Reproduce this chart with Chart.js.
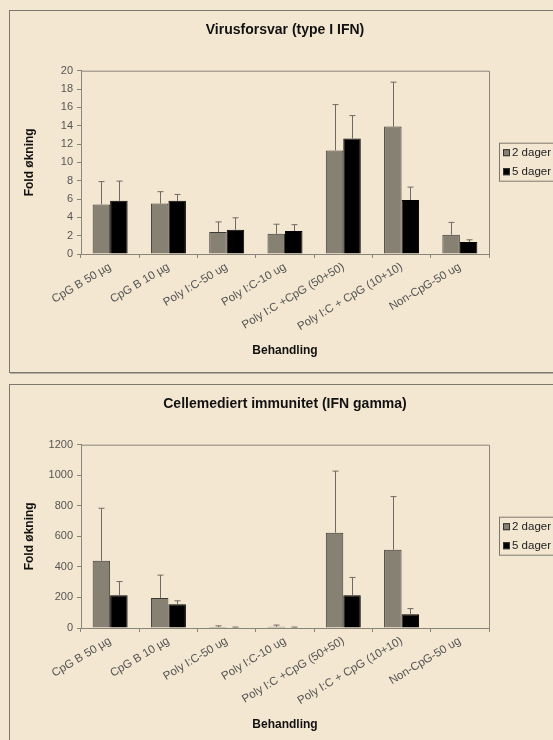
<!DOCTYPE html>
<html>
<head>
<meta charset="utf-8">
<script src="https://cdn.jsdelivr.net/npm/chart.js@4.4.1/dist/chart.umd.min.js"></script>
<style>
  html, body { margin: 0; padding: 0; background: #f4e7d2; width: 553px; height: 740px; overflow: hidden; }
  .panel { position: absolute; left: 9px; width: 620px; border: 1px solid #7d786e; box-shadow: 1px 1px 0 #b9b2a4; }
  .wrap { position: absolute; left: 0; width: 553px; height: 370px; }
</style>
</head>
<body>
<div class="panel" style="top:10px;height:361px;"></div>
<div class="panel" style="top:384px;height:400px;"></div>
<div class="wrap" style="top:0px;"><canvas id="virusChart"></canvas></div>
<div class="wrap" style="top:374px;"><canvas id="gammaChart"></canvas></div>
<script>
// Categories (treatments)
const categories = ['CpG B 50 µg', 'CpG B 10 µg', 'Poly I:C-50 ug', 'Poly I:C-10 ug',
    'Poly I:C +CpG (50+50)', 'Poly I:C + CpG (10+10)', 'Non-CpG-50 ug'];
const seriesNames = ['2 dager', '5 dager'];

// Virusforsvar (type I IFN): mean and standard deviation
const virus2 = [5.4, 5.5, 2.4, 2.2, 11.3, 13.9, 2.1];
const virus2Sd = [2.5, 1.3, 1.1, 1.05, 5.0, 4.85, 1.35];
const virus5 = [5.8, 5.8, 2.65, 2.5, 12.6, 5.9, 1.3];
const virus5Sd = [2.15, 0.7, 1.3, 0.7, 2.5, 1.4, 0.25];

// Cellemediert immunitet (IFN gamma)
const gamma2 = [440, 197, 6, 8, 624, 512, 0];
const gamma2Sd = [344, 149, 8, 11, 403, 348, 0];
const gamma5 = [215, 155, 4, 4, 215, 90, 0];
const gamma5Sd = [89, 23, 2, 2, 116, 37, 0];

const fontFamily = '"Liberation Sans", Arial, sans-serif';
const axisGray = '#8a857b';

// Upper error bars with a small cap
const errorBars = {
    id: 'errorBars',
    afterDatasetsDraw(chart) {
        const ctx = chart.ctx;
        const yScale = chart.scales.y;
        ctx.save();
        ctx.strokeStyle = '#6e6a63';
        ctx.lineWidth = 1;
        chart.data.datasets.forEach((ds, i) => {
            const meta = chart.getDatasetMeta(i);
            meta.data.forEach((bar, j) => {
                const sd = ds.errors[j];
                if (!sd) return;
                const x = Math.round(bar.x) + 0.5;
                const yTop = yScale.getPixelForValue(ds.data[j] + sd);
                ctx.beginPath();
                ctx.moveTo(x, bar.y);
                ctx.lineTo(x, yTop);
                ctx.moveTo(x - 3, yTop);
                ctx.lineTo(x + 3, yTop);
                ctx.stroke();
            });
        });
        ctx.restore();
    }
};

// Chart title over the plot, plot frame and boxed legend
const frameAndLegend = {
    id: 'frameAndLegend',
    afterDraw(chart, args, opts) {
        const ctx = chart.ctx;
        const a = chart.chartArea;
        ctx.save();
        // title
        ctx.font = 'bold 14px ' + fontFamily;
        ctx.fillStyle = '#111';
        ctx.textAlign = 'center';
        ctx.textBaseline = 'middle';
        ctx.fillText(opts.title, (a.left + a.right) / 2, 30.5);

        // top and right frame lines
        ctx.strokeStyle = axisGray;
        ctx.lineWidth = 1;
        ctx.beginPath();
        ctx.moveTo(a.left, a.top + 0.5);
        ctx.lineTo(a.right + 0.5, a.top + 0.5);
        ctx.lineTo(a.right + 0.5, a.bottom);
        ctx.stroke();

        // legend
        const lx = a.right + 10, ly = a.top + 72;
        ctx.strokeStyle = '#7d786e';
        ctx.strokeRect(lx + 0.5, ly + 0.5, 80, 38);
        ctx.font = '11.5px ' + fontFamily;
        ctx.textAlign = 'left';
        chart.data.datasets.forEach((ds, i) => {
            const ry = ly + 10 + i * 19;
            ctx.fillStyle = ds.backgroundColor;
            ctx.fillRect(lx + 4, ry - 3.5, 7, 7);
            ctx.strokeStyle = '#333';
            ctx.strokeRect(lx + 4.5, ry - 3, 6, 6);
            ctx.fillStyle = '#222';
            ctx.fillText(ds.label, lx + 13, ry + 0.5);
        });
        ctx.restore();
    }
};

function makeChart(id, title, d2, sd2, d5, sd5, yMax, yStep) {
    const ctx = document.getElementById(id).getContext('2d');
    return new Chart(ctx, {
        type: 'bar',
        data: {
            labels: categories,
            datasets: [{
                label: seriesNames[0],
                data: d2,
                errors: sd2,
                backgroundColor: '#878174',
                borderColor: '#3c3a36',
                borderWidth: 1,
                categoryPercentage: 0.6,
                barPercentage: 1.0
            }, {
                label: seriesNames[1],
                data: d5,
                errors: sd5,
                backgroundColor: '#000000',
                borderColor: '#000000',
                borderWidth: 1,
                categoryPercentage: 0.6,
                barPercentage: 1.0
            }]
        },
        options: {
            responsive: false,
            animation: false,
            layout: { padding: { left: 0, right: 64, top: 70.7, bottom: 0 } },
            plugins: {
                legend: { display: false },
                tooltip: { enabled: false },
                title: { display: false },
                frameAndLegend: { title: title }
            },
            scales: {
                x: {
                    grid: { display: true, offset: true, drawOnChartArea: false, drawTicks: true, tickLength: 4, color: axisGray },
                    border: { color: axisGray },
                    ticks: {
                        minRotation: 31, maxRotation: 31, padding: 2,
                        color: '#555',
                        font: { family: fontFamily, size: 11.5 }
                    },
                    title: {
                        display: true,
                        text: 'Behandling',
                        color: '#111',
                        font: { family: fontFamily, size: 12, weight: 'bold' },
                        padding: { top: 0, bottom: 12.3 }
                    },
                    afterFit(scale) { scale.height = 116; }
                },
                y: {
                    min: 0,
                    max: yMax,
                    grid: { display: true, drawOnChartArea: false, drawTicks: true, tickLength: 4, color: axisGray },
                    border: { color: axisGray },
                    ticks: {
                        stepSize: yStep,
                        padding: 4,
                        color: '#555',
                        font: { family: fontFamily, size: 11 },
                        callback: function (value) { return String(value); }
                    },
                    title: {
                        display: true,
                        text: 'Fold økning',
                        color: '#111',
                        font: { family: fontFamily, size: 12, weight: 'bold' },
                        padding: { top: 22.8, bottom: 0 }
                    },
                    afterFit(scale) { scale.width = 81; }
                }
            }
        },
        plugins: [errorBars, frameAndLegend]
    });
}

document.getElementById('virusChart').width = 553;
document.getElementById('virusChart').height = 370;
document.getElementById('gammaChart').width = 553;
document.getElementById('gammaChart').height = 370;

makeChart('virusChart', 'Virusforsvar (type I IFN)', virus2, virus2Sd, virus5, virus5Sd, 20, 2);
makeChart('gammaChart', 'Cellemediert immunitet (IFN gamma)', gamma2, gamma2Sd, gamma5, gamma5Sd, 1200, 200);
</script>
</body>
</html>
